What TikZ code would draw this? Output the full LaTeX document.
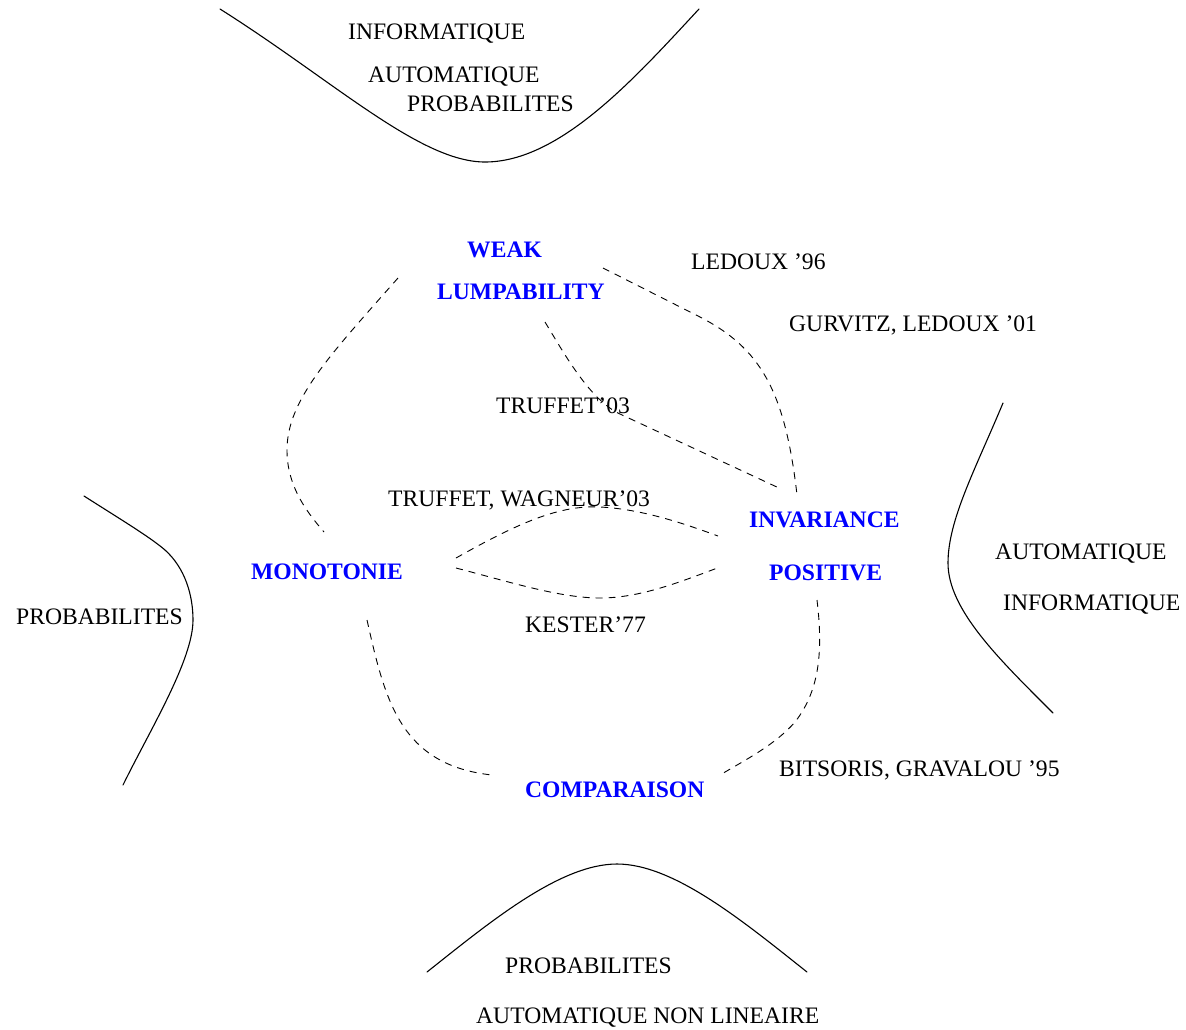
\documentclass[tikz,border=0pt]{standalone}
\usepackage{fontspec}
\setmainfont{Liberation Serif}
\begin{document}
\begin{tikzpicture}[x=1pt,y=-1pt,
  lbl/.style={inner sep=0pt,anchor=base west,font=\fontsize{23.6}{28}\selectfont},
  key/.style={lbl,font=\fontsize{23.6}{28}\selectfont\bfseries,text={rgb,255:red,0;green,0;blue,255}},
  border/.style={line width=1.1pt,line cap=round},
  link/.style={line width=0.9pt,dash pattern=on 7pt off 6pt}]
\useasboundingbox (0,0) rectangle (1186,1029);

% domain labels
\node[lbl] (tinf) at (348,39) {INFORMATIQUE};
\node[lbl] (taut) at (368,82) {AUTOMATIQUE};
\node[lbl] (tpro) at (407,111) {PROBABILITES};
\node[lbl] (lpro) at (16,624) {PROBABILITES};
\node[lbl] (raut) at (995,559) {AUTOMATIQUE};
\node[lbl] (rinf) at (1003,610) {INFORMATIQUE};
\node[lbl] (bpro) at (505,973) {PROBABILITES};
\node[lbl] (bnl)  at (476,1023) {AUTOMATIQUE NON LINEAIRE};

% key concepts
\node[key] (weak) at (467,257) {WEAK};
\node[key] (lump) at (437,299) {LUMPABILITY};
\node[key] (inv)  at (749,527) {INVARIANCE};
\node[key] (pos)  at (769,580) {POSITIVE};
\node[key] (mono) at (251,579) {MONOTONIE};
\node[key] (comp) at (525,797) {COMPARAISON};

% references
\node[lbl] (led)  at (691,269) {LEDOUX '96};
\node[lbl] (gur)  at (789,331) {GURVITZ, LEDOUX '01};
\node[lbl] (tr03) at (496,413) {TRUFFET'03};
\node[lbl] (trw)  at (388,506) {TRUFFET, WAGNEUR'03};
\node[lbl] (kes)  at (525,632) {KESTER'77};
\node[lbl] (bit)  at (779,776) {BITSORIS, GRAVALOU '95};

% domain border curves
\coordinate (t1) at (220,9);   \coordinate (t2) at (699,9);
\coordinate (l1) at (84,496);  \coordinate (l2) at (123,785);
\coordinate (r1) at (1003,403);\coordinate (r2) at (1053,713);
\coordinate (b1) at (427,972); \coordinate (b2) at (807,972);
\draw[border] (t1) .. controls (334,81) and (420,162) .. (485,162)
   .. controls (560,162) and (635,78) .. (t2);
\draw[border] (l1) .. controls (120,519) and (150,537) .. (165,550)
   .. controls (185,568) and (193,595) .. (193,620)
   .. controls (193,660) and (150,730) .. (l2);
\draw[border] (r1) .. controls (975,470) and (948,520) .. (948,563)
   .. controls (948,610) and (1000,660) .. (r2);
\draw[border] (b1) .. controls (490,922) and (560,864) .. (617,864)
   .. controls (674,864) and (744,922) .. (b2);

% dashed links
\coordinate (a1) at (398,278); \coordinate (a2) at (324,532);
\draw[link] (a1) .. controls (330,355) and (287,400) .. (287,450)
   .. controls (287,485) and (305,510) .. (a2);
\coordinate (c1) at (545,322); \coordinate (c2) at (779,488);
\draw[link] (c1) .. controls (565,355) and (590,400) .. (620,414) -- (c2);
\coordinate (d1) at (603,268); \coordinate (d2) at (797,495);
\draw[link] (d1) -- (700,317) .. controls (760,348) and (785,390) .. (d2);
\coordinate (e1) at (456,558); \coordinate (e2) at (718,536);
\draw[link] (e1) .. controls (520,522) and (560,505) .. (600,507)
   .. controls (640,509) and (680,522) .. (e2);
\coordinate (f1) at (456,568); \coordinate (f2) at (720,567);
\draw[link] (f1) .. controls (510,582) and (560,598) .. (600,598)
   .. controls (640,598) and (680,582) .. (f2);
\coordinate (g1) at (367,620); \coordinate (g2) at (492,775);
\draw[link] (g1) .. controls (385,700) and (400,765) .. (g2);
\coordinate (h1) at (817,600); \coordinate (h2) at (720,775);
\draw[link] (h1) .. controls (823,650) and (820,690) .. (795,722)
   .. controls (775,745) and (745,760) .. (h2);
\end{tikzpicture}
\end{document}
